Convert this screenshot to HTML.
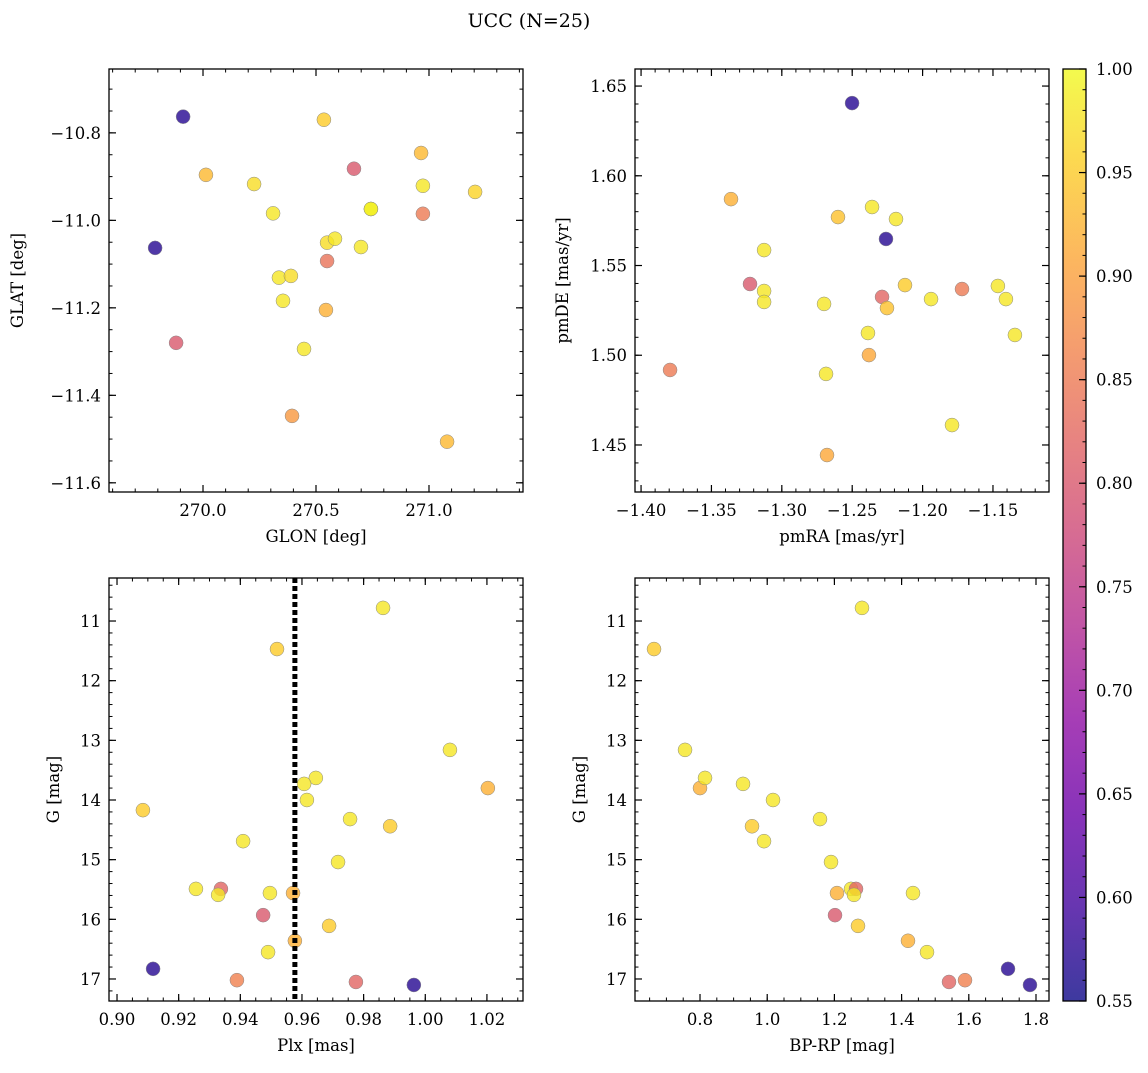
<!DOCTYPE html>
<html><head><meta charset="utf-8">
<style>
html,body{margin:0;padding:0;background:#fff;}
svg text{font-family:"DejaVu Serif","Liberation Serif",serif;fill:#000;}
</style></head>
<body>
<svg id="fig" xmlns="http://www.w3.org/2000/svg" width="1148" height="1068" viewBox="0 0 1148 1068">
<defs>
<linearGradient id="cbgrad" x1="0" y1="1" x2="0" y2="0">
<stop offset="0" stop-color="#0d0887"/><stop offset="0.1" stop-color="#41049d"/><stop offset="0.2" stop-color="#6a00a8"/><stop offset="0.3" stop-color="#8f0da4"/><stop offset="0.4" stop-color="#b12a90"/><stop offset="0.5" stop-color="#cc4778"/><stop offset="0.6" stop-color="#e16462"/><stop offset="0.7" stop-color="#f2844b"/><stop offset="0.8" stop-color="#fca636"/><stop offset="0.9" stop-color="#fcce25"/><stop offset="1" stop-color="#f0f921"/>
</linearGradient>
</defs>
<text x="529" y="27" font-size="19" text-anchor="middle" font-family="DejaVu Serif, Liberation Serif, serif">UCC (N=25)</text>
</svg>
<script>
// Panel 1: GLON vs GLAT
const p1_glon = [269.912,269.788,270.013,269.881,270.226,270.310,270.336,270.389,270.354,270.447,270.394,270.535,270.549,270.584,270.549,270.544,270.668,270.699,270.743,270.965,270.973,270.973,271.080,271.204,270.743];
const p1_glat = [-10.763,-11.063,-10.896,-11.280,-10.917,-10.984,-11.131,-11.127,-11.184,-11.294,-11.447,-10.770,-11.051,-11.042,-11.093,-11.205,-10.882,-11.061,-10.974,-10.846,-10.921,-10.985,-11.506,-10.935,-10.974];
const p1_prob = [0.57,0.57,0.93,0.80,0.97,0.98,0.98,0.97,0.98,0.98,0.89,0.95,0.97,0.98,0.84,0.92,0.80,0.98,0.99,0.93,0.98,0.85,0.93,0.96,0.99];
// Panel 2: pmRA vs pmDE
const p2_pmra = [-1.2501,-1.2260,-1.3361,-1.2601,-1.2359,-1.2189,-1.3126,-1.3226,-1.3126,-1.3126,-1.2700,-1.2288,-1.2253,-1.2125,-1.1940,-1.1720,-1.1465,-1.1408,-1.1344,-1.2388,-1.2381,-1.2686,-1.3794,-1.1791,-1.2679];
const p2_pmde = [1.6405,1.5648,1.5870,1.5770,1.5826,1.5759,1.5586,1.5397,1.5358,1.5297,1.5286,1.5325,1.5263,1.5391,1.5313,1.5369,1.5386,1.5313,1.5113,1.5124,1.5001,1.4896,1.4918,1.4611,1.4444];
const p2_prob = [0.57,0.57,0.92,0.94,0.98,0.98,0.98,0.80,0.98,0.98,0.98,0.82,0.94,0.95,0.98,0.85,0.98,0.98,0.98,0.98,0.91,0.98,0.85,0.98,0.91];
// Panel 3: Plx vs G
const p3_plx = [0.9863,0.9519,1.0080,1.0203,0.9084,0.9645,0.9607,0.9616,0.9756,0.9886,0.9409,0.9717,0.9256,0.9337,0.9328,0.9496,0.9571,0.9474,0.9688,0.9577,0.9490,0.9117,0.9389,0.9775,0.9963];
const p3_g = [10.78,11.47,13.16,13.80,14.17,13.63,13.73,14.00,14.32,14.44,14.69,15.04,15.49,15.49,15.59,15.56,15.56,15.93,16.11,16.36,16.55,16.83,17.02,17.05,17.10];
const p3_prob = [0.98,0.95,0.98,0.92,0.95,0.98,0.98,0.98,0.98,0.95,0.98,0.98,0.98,0.82,0.98,0.98,0.92,0.80,0.95,0.92,0.98,0.57,0.86,0.82,0.57];
const plx_median = [0.9577];
// Panel 4: BP-RP vs G
const p4_bprp = [1.2821,0.6631,0.7554,0.8000,0.8149,0.9280,1.0173,0.9548,0.9905,1.1571,1.1899,1.2494,1.2643,1.2583,1.4339,1.2077,1.2018,1.2702,1.4190,1.4756,1.7167,1.5887,1.5411,1.7821];
const p4_g = [10.78,11.47,13.16,13.80,13.63,13.73,14.00,14.44,14.69,14.32,15.04,15.49,15.49,15.59,15.56,15.56,15.93,16.11,16.36,16.55,16.83,17.02,17.05,17.10];
const p4_prob = [0.98,0.95,0.98,0.92,0.98,0.98,0.98,0.95,0.98,0.98,0.98,0.98,0.82,0.98,0.98,0.92,0.80,0.95,0.92,0.98,0.57,0.86,0.82,0.57];
// Tick labels
const p1_xticks = [270.0,270.5,271.0];
const p1_yticks = [-10.8,-11.0,-11.2,-11.4,-11.6];
const p2_xticks = [-1.40,-1.35,-1.30,-1.25,-1.20,-1.15];
const p2_yticks = [1.45,1.50,1.55,1.60,1.65];
const p3_xticks = [0.90,0.92,0.94,0.96,0.98,1.00,1.02];
const g_yticks = [11,12,13,14,15,16,17];
const p4_xticks = [0.8,1.0,1.2,1.4,1.6,1.8];
const cb_ticks = [0.55,0.60,0.65,0.70,0.75,0.80,0.85,0.90,0.95,1.00];

const NS = "http://www.w3.org/2000/svg";
const svg = document.getElementById('fig');
const VMIN = 0.55, VMAX = 1.0;
const ALPHA = 0.8;
const FONT = "DejaVu Serif, Liberation Serif, serif";
const stops = ["#0d0887","#41049d","#6a00a8","#8f0da4","#b12a90","#cc4778","#e16462","#f2844b","#fca636","#fcce25","#f0f921"];
function hex(h){return [parseInt(h.substr(1,2),16),parseInt(h.substr(3,2),16),parseInt(h.substr(5,2),16)];}
function plasma(v){
  let t=Math.max(0,Math.min(1,(v-VMIN)/(VMAX-VMIN)))*10;
  let i=Math.min(9,Math.floor(t)), f=t-i;
  const a=hex(stops[i]), b=hex(stops[i+1]);
  return 'rgb('+a.map((c,k)=>Math.round(c+(b[k]-c)*f)).join(',')+')';
}
function el(tag, attrs, parent){
  const e=document.createElementNS(NS,tag);
  for(const k in attrs) e.setAttribute(k,attrs[k]);
  if(tag==='text') e.setAttribute('font-family', FONT);
  (parent||svg).appendChild(e); return e;
}
function fmt(v,d){return v.toFixed(d).replace('-','\u2212');}

function panel(o){
  const g=el('g',{});
  
  
  const L=o.L,R=o.R,T=o.T,B=o.B;
  const sx=v=>L+(v-o.xmin)/(o.xmax-o.xmin)*(R-L);
  const sy=o.invert? (v=>T+(v-o.ymin)/(o.ymax-o.ymin)*(B-T)) : (v=>B-(v-o.ymin)/(o.ymax-o.ymin)*(B-T));
  for(let i=0;i<o.xs.length;i++){
    const c=el('circle',{cx:sx(o.xs[i]),cy:sy(o.ys[i]),r:7,fill:plasma(o.cs[i]),'fill-opacity':ALPHA,stroke:'#888','stroke-width':0.5},g);
    
    
  }
  if(o.vline){
    const ln=el('line',{x1:sx(o.vline[0]),x2:sx(o.vline[0]),y1:T,y2:B,stroke:'#000','stroke-width':5,'stroke-dasharray':'5,3'},g);
    
    
  }
  const fr=el('rect',{x:L,y:T,width:R-L,height:B-T,fill:'none',stroke:'#000','stroke-width':1.3},g);
  
  
  const eps=1e-9;
  const xa=Math.min(o.xmin,o.xmax), xb=Math.max(o.xmin,o.xmax);
  for(let v=Math.ceil(xa/o.xminor-eps)*o.xminor; v<=xb+eps; v+=o.xminor){
    const x=sx(v);
    el('line',{x1:x,x2:x,y1:B,y2:B-3.5,stroke:'#000','stroke-width':1},g);
    el('line',{x1:x,x2:x,y1:T,y2:T+3.5,stroke:'#000','stroke-width':1},g);
  }
  const ya=Math.min(o.ymin,o.ymax), yb=Math.max(o.ymin,o.ymax);
  for(let v=Math.ceil(ya/o.yminor-eps)*o.yminor; v<=yb+eps; v+=o.yminor){
    const y=sy(v);
    el('line',{x1:L,x2:L+3.5,y1:y,y2:y,stroke:'#000','stroke-width':1},g);
    el('line',{x1:R,x2:R-3.5,y1:y,y2:y,stroke:'#000','stroke-width':1},g);
  }
  o.xticks.forEach(v=>{
    const x=sx(v);
    el('line',{x1:x,x2:x,y1:B,y2:B-7,stroke:'#000','stroke-width':1.2},g);
    el('line',{x1:x,x2:x,y1:T,y2:T+7,stroke:'#000','stroke-width':1.2},g);
    const t=el('text',{x:x,y:B+24,'font-size':16.5,'text-anchor':'middle'},g);
    t.textContent=fmt(v,o.xd);
    
    
  });
  o.yticks.forEach(v=>{
    const y=sy(v);
    el('line',{x1:L,x2:L+7,y1:y,y2:y,stroke:'#000','stroke-width':1.2},g);
    el('line',{x1:R,x2:R-7,y1:y,y2:y,stroke:'#000','stroke-width':1.2},g);
    const t=el('text',{x:L-8,y:y+6,'font-size':16.5,'text-anchor':'end'},g);
    t.textContent=fmt(v,o.yd);
    
    
  });
  const xl=el('text',{x:(L+R)/2,y:B+50,'font-size':16.5,'text-anchor':'middle'},g);
  xl.textContent=o.xlabel;
  
  
  const yl=el('text',{x:o.ylx,y:(T+B)/2,'font-size':16.5,'text-anchor':'middle',transform:'rotate(-90 '+o.ylx+' '+(T+B)/2+')'},g);
  yl.textContent=o.ylabel;
  
  
}

panel({name:'glon-glat-panel',L:109,R:523,T:69,B:492,xmin:269.584,xmax:271.416,ymin:-11.621,ymax:-10.654,
  xs:p1_glon,ys:p1_glat,cs:p1_prob,xticks:p1_xticks,yticks:p1_yticks,xd:1,yd:1,xminor:0.1,yminor:0.05,
  xlabel:'GLON [deg]',ylabel:'GLAT [deg]',ylx:23});
panel({name:'proper-motion-panel',L:635,R:1049,T:69,B:492,xmin:-1.4043,xmax:-1.1102,ymin:1.4238,ymax:1.6595,
  xs:p2_pmra,ys:p2_pmde,cs:p2_prob,xticks:p2_xticks,yticks:p2_yticks,xd:2,yd:2,xminor:0.01,yminor:0.01,
  xlabel:'pmRA [mas/yr]',ylabel:'pmDE [mas/yr]',ylx:568});
panel({name:'parallax-magnitude-panel',L:109,R:523,T:578,B:1001,xmin:0.8974,xmax:1.0317,ymin:10.279,ymax:17.369,invert:true,
  xs:p3_plx,ys:p3_g,cs:p3_prob,xticks:p3_xticks,yticks:g_yticks,xd:2,yd:0,xminor:0.005,yminor:0.2,vline:plx_median,
  xlabel:'Plx [mas]',ylabel:'G [mag]',ylx:59});
panel({name:'color-magnitude-panel',L:635,R:1049,T:578,B:1001,xmin:0.6065,xmax:1.8387,ymin:10.279,ymax:17.369,invert:true,
  xs:p4_bprp,ys:p4_g,cs:p4_prob,xticks:p4_xticks,yticks:g_yticks,xd:1,yd:0,xminor:0.05,yminor:0.2,
  xlabel:'BP-RP [mag]',ylabel:'G [mag]',ylx:585});

(function(){
  const L=1063,R=1086,T=69,B=1001;
  const g=el('g',{});
  
  
  el('rect',{x:L,y:T,width:R-L,height:B-T,fill:'url(#cbgrad)','fill-opacity':ALPHA,stroke:'none'},g);
  el('rect',{x:L,y:T,width:R-L,height:B-T,fill:'none',stroke:'#000','stroke-width':1.3},g);
  const sy=v=>B-(v-VMIN)/(VMAX-VMIN)*(B-T);
  for(let k=0;k<=45;k++){
    const y=sy(VMIN+k*0.01);
    el('line',{x1:R,x2:R-3.5,y1:y,y2:y,stroke:'#000','stroke-width':1},g);
  }
  cb_ticks.forEach(v=>{
    const y=sy(v);
    el('line',{x1:R,x2:R-7,y1:y,y2:y,stroke:'#000','stroke-width':1.2},g);
    const t=el('text',{x:R+10,y:y+6,'font-size':16.5},g);
    t.textContent=v.toFixed(2);
    
    
  });
})();
</script>
</body></html>
